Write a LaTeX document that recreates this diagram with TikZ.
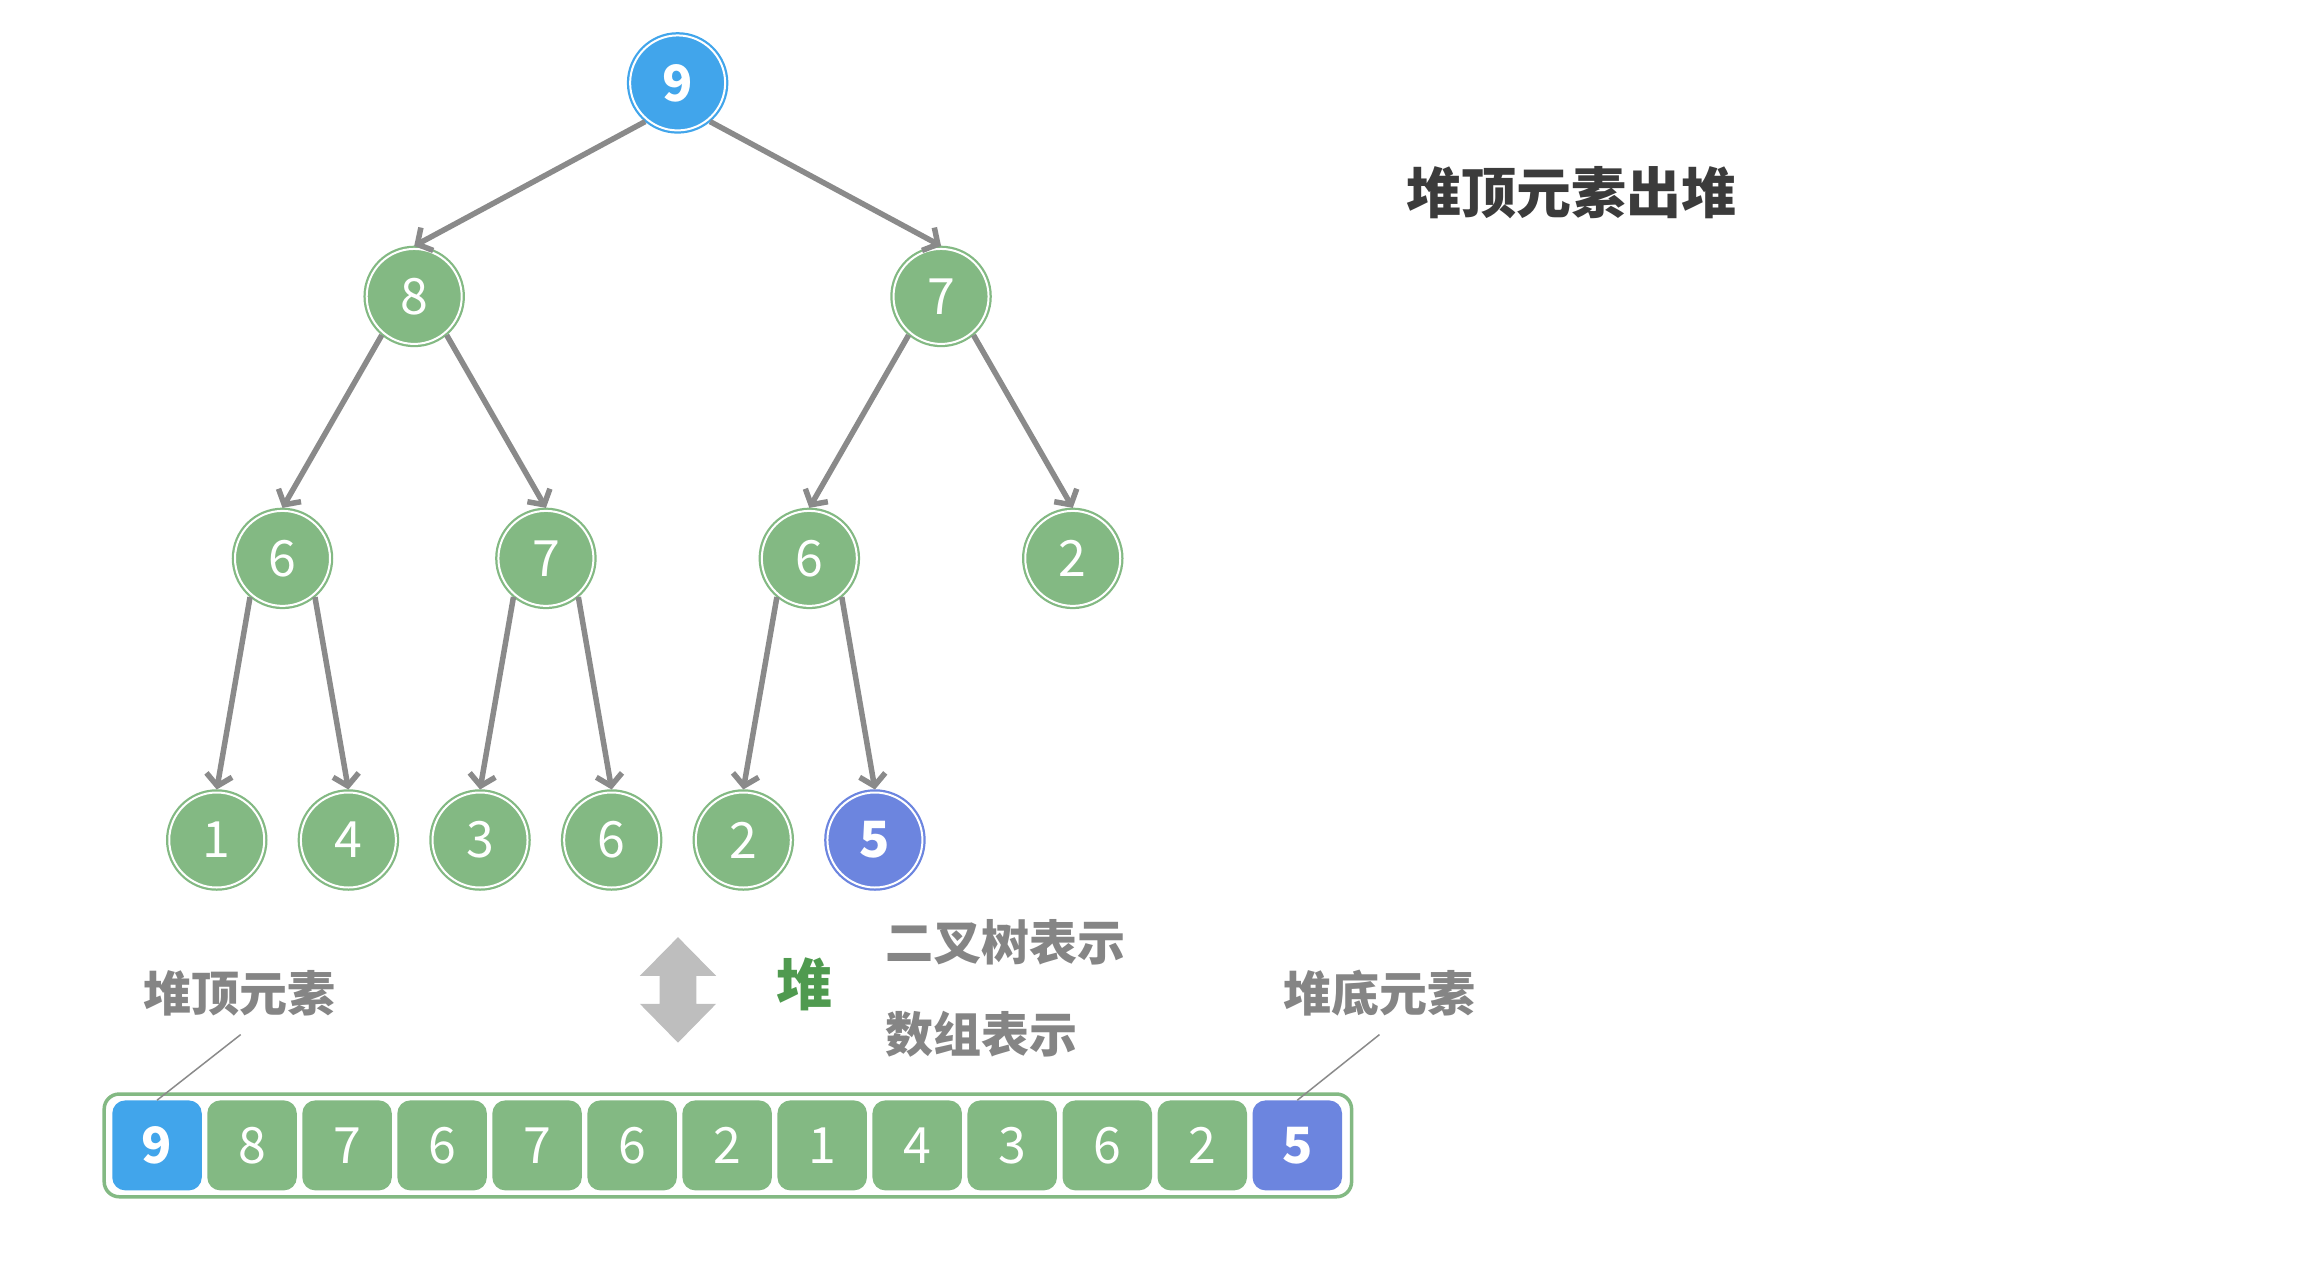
\documentclass[tikz,border=0pt]{standalone}
\usepackage{fontspec}
\setmainfont{Noto Sans CJK SC}
\usetikzlibrary{arrows.meta}
\definecolor{gfill}{HTML}{83B983}
\definecolor{bfill}{HTML}{41A5EB}
\definecolor{pfill}{HTML}{6C85DF}
\definecolor{edgec}{HTML}{8A8A8A}
\definecolor{labc}{HTML}{858585}
\definecolor{titc}{HTML}{3B3B3B}
\definecolor{heapc}{HTML}{4F9A4F}
\definecolor{dblc}{HTML}{BEBEBE}
\tikzset{
  treenode/.style={circle, minimum size=95pt, inner sep=0pt, outer sep=3pt,
    fill=#1, draw=white, line width=2pt, preaction={draw=#1, line width=6.5pt},
    text=white, font=\fontsize{50}{56}\selectfont},
  cellbox/.style={rounded corners=13pt, minimum width=89.5pt, minimum height=90pt,
    inner sep=0pt, fill=#1, text=white, font=\fontsize{50}{56}\selectfont},
  edge/.style={draw=edgec, line width=5.5pt, -{Straight Barb[length=11pt,width=26pt]}},
  leader/.style={draw=edgec, line width=1.5pt},
  lab/.style={text=labc, font=\fontsize{48}{54}\selectfont\bfseries, inner sep=0pt},
}
\begin{document}
\begin{tikzpicture}[x=1.4675pt, y=-1.4675pt]
\path[use as bounding box] (0,0) rectangle (1566.6,860);
% tree nodes
\node[treenode=bfill, font=\fontsize{50}{56}\selectfont\bfseries] (r) at (461.75,56.5) {9};
\node[treenode=gfill] (a) at (282.25,202) {8};
\node[treenode=gfill] (b) at (641.25,202) {7};
\node[treenode=gfill] (c) at (192.5,380.5) {6};
\node[treenode=gfill] (d) at (372,380.5) {7};
\node[treenode=gfill] (e) at (551.5,380.5) {6};
\node[treenode=gfill] (f) at (731,380.5) {2};
\node[treenode=gfill] (g) at (147.7,572.4) {1};
\node[treenode=gfill] (h) at (237.4,572.4) {4};
\node[treenode=gfill] (i) at (327.1,572.4) {3};
\node[treenode=gfill] (j) at (416.8,572.4) {6};
\node[treenode=gfill] (k) at (506.5,572.4) {2};
\node[treenode=pfill, font=\fontsize{50}{56}\selectfont\bfseries] (l) at (596.2,572.4) {5};
% edges
\draw[edge] (r.230) -- (a.north);
\draw[edge] (r.310) -- (b.north);
\draw[edge] (a.230) -- (c.north);
\draw[edge] (a.310) -- (d.north);
\draw[edge] (b.230) -- (e.north);
\draw[edge] (b.310) -- (f.north);
\draw[edge] (c.230) -- (g.north);
\draw[edge] (c.310) -- (h.north);
\draw[edge] (d.230) -- (i.north);
\draw[edge] (d.310) -- (j.north);
\draw[edge] (e.230) -- (k.north);
\draw[edge] (e.310) -- (l.north);
% title
\node[text=titc, font=\fontsize{55}{60}\selectfont\bfseries, inner sep=0pt] (title) at (1071,131) {堆顶元素出堆};
% double arrow
\fill[dblc] (462,638.6) -- (488,665) -- (474.5,665) -- (474.5,684) -- (488,684)
  -- (462,710.5) -- (436,684) -- (449.5,684) -- (449.5,665) -- (436,665) -- cycle;
\node[text=heapc, font=\fontsize{56}{60}\selectfont\bfseries, inner sep=0pt] (heap) at (548,671) {堆};
\node[lab, anchor=west] (bt) at (603,642) {二叉树表示};
\node[lab, anchor=west] (ar) at (603,705) {数组表示};
% array
\draw[draw=gfill, line width=3.5pt, fill=white, rounded corners=15pt] (71,745.5) rectangle (921,815.5);
\foreach \v [count=\n from 0] in {9,8,7,6,7,6,2,1,4,3,6,2,5} {
  \ifnum\n=0
    \node[cellbox=bfill, font=\fontsize{50}{56}\selectfont\bfseries] (c\n) at ({107+64.75*\n},780.5) {\v};
  \else\ifnum\n=12
    \node[cellbox=pfill, font=\fontsize{50}{56}\selectfont\bfseries] (c\n) at ({107+64.75*\n},780.5) {\v};
  \else
    \node[cellbox=gfill] (c\n) at ({107+64.75*\n},780.5) {\v};
  \fi\fi
}
% labels with leaders
\node[lab] (top) at (163,677) {堆顶元素};
\node[lab] (bot) at (940,677) {堆底元素};
\coordinate (lt) at (164,705);
\coordinate (lb) at (940,705);
\draw[leader] (lt) -- (c0.north);
\draw[leader] (lb) -- (c12.north);
\end{tikzpicture}
\end{document}
